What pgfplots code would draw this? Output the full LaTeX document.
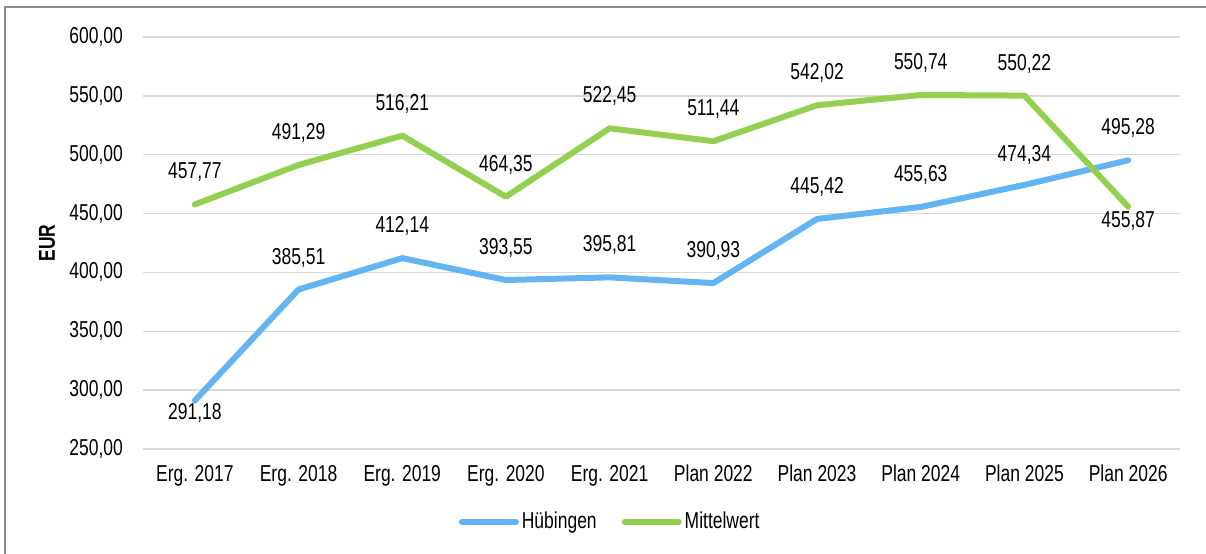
\documentclass[border=0pt]{standalone}
\usepackage{pgfplots}
\pgfplotsset{compat=1.18}
\usepackage{fontspec}
\setmainfont{Liberation Sans}[FakeStretch=0.76]
\definecolor{hblue}{RGB}{99,180,242}
\definecolor{mgreen}{RGB}{146,208,80}
\definecolor{gridgray}{RGB}{217,217,217}
\definecolor{framegray}{RGB}{140,140,140}
\newcommand{\lf}{\fontsize{11.5}{13.8}\selectfont}
\begin{document}
\lf
\begin{tikzpicture}
\useasboundingbox (0,0) rectangle (603pt,276.5pt);
\draw[framegray,line width=0.8pt] (2.5pt,-5pt) -- (2.5pt,273pt) -- (610pt,273pt);
\begin{axis}[
  at={(71.5pt,52pt)}, anchor=south west,
  scale only axis, width=518.5pt, height=206pt,
  xmin=-0.5, xmax=9.5, ymin=250, ymax=600,
  ytick={250,300,...,600},
  xtick={0,...,9},
  xticklabels={Erg. 2017,Erg. 2018,Erg. 2019,Erg. 2020,Erg. 2021,Plan 2022,Plan 2023,Plan 2024,Plan 2025,Plan 2026},
  axis line style={draw=none},
  major tick style={draw=none},
  ymajorgrids, grid style={gridgray,line width=0.75pt},
  /pgf/number format/.cd, fixed, fixed zerofill, precision=2, use comma, 1000 sep={}, assume math mode=true,
  /pgfplots/.cd,
  tick label style={font=\lf},
  yticklabel style={xshift=-6pt},
  xticklabel style={yshift=-4pt},
  ylabel={EUR},
  ylabel style={font=\lf\bfseries, at={(axis description cs:-0.0926,0.5)}, anchor=center},
  legend style={draw=none, at={(axis description cs:0.451,-0.177)}, anchor=center, legend columns=2, font=\lf,
    nodes={inner xsep=1.5pt},
    /tikz/every even column/.append style={column sep=11pt}},
  legend image code/.code={\draw[#1,line cap=round] (0pt,0pt) -- (27pt,0pt);},
  nodes near coords,
  every node near coord/.append style={anchor=center, font=\lf, black, yshift=\myshift pt},
  visualization depends on={\thisrow{s} \as \myshift},
]
\addplot[hblue, line width=3pt, line cap=round, line join=round] table[x=x,y=y] {
x y s
0 291.18 -6
1 385.51 16
2 412.14 16
3 393.55 16
4 395.81 16
5 390.93 16
6 445.42 16
7 455.63 16
8 474.34 15
9 495.28 16
};
\addlegendentry{Hübingen}
\addplot[mgreen, line width=3pt, line cap=round, line join=round] table[x=x,y=y] {
x y s
0 457.77 16
1 491.29 16
2 516.21 16
3 464.35 16
4 522.45 16
5 511.44 16
6 542.02 16
7 550.74 16
8 550.22 16
9 455.87 -7
};
\addlegendentry{Mittelwert}
\end{axis}
\end{tikzpicture}
\end{document}
